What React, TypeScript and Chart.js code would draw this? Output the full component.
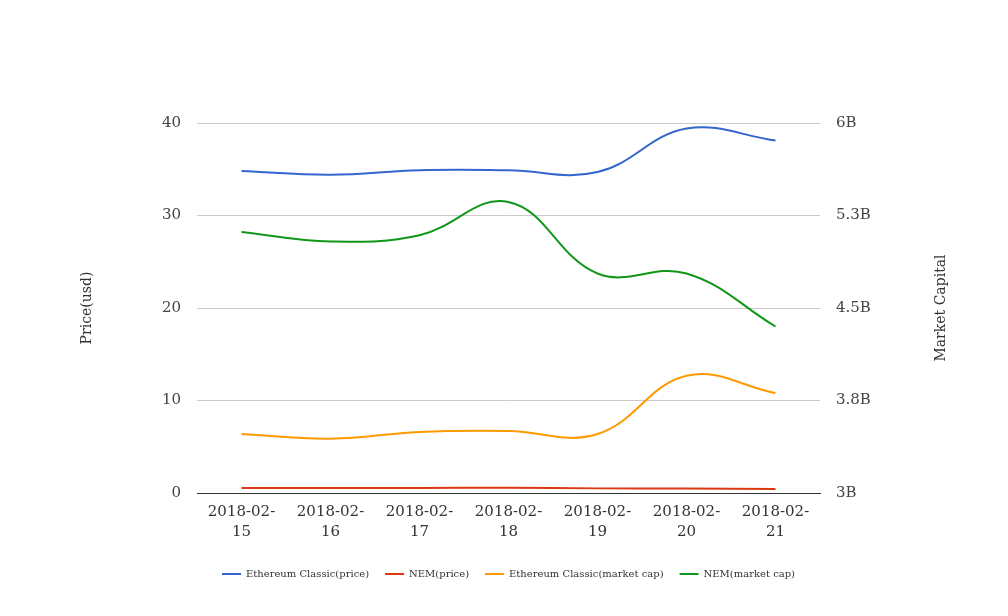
import React, { useEffect, useRef } from "react";
import { Chart, registerables } from "chart.js";

Chart.register(...registerables);

const categories: string[][] = [
  ["2018-02-", "15"],
  ["2018-02-", "16"],
  ["2018-02-", "17"],
  ["2018-02-", "18"],
  ["2018-02-", "19"],
  ["2018-02-", "20"],
  ["2018-02-", "21"],
];

const etcPrice = [34.8, 34.4, 34.9, 34.9, 34.7, 39.4, 38.1];
const nemPrice = [0.55, 0.55, 0.55, 0.58, 0.5, 0.49, 0.43];
const etcCap = [3.478e9, 3.44e9, 3.495e9, 3.503e9, 3.478e9, 3.95e9, 3.81e9];
const nemCap = [5.117e9, 5.04e9, 5.09e9, 5.36e9, 4.78e9, 4.78e9, 4.35e9];

const leftTicks = [0, 10, 20, 30, 40];
const rightTicks = [3e9, 3.75e9, 4.5e9, 5.25e9, 6e9];

const rightTitle = "Market Capital";

const FONT = "'DejaVu Serif', serif";

function fmtB(v: number): string {
  let s = (v / 1e9).toFixed(1);
  if (s.endsWith(".0")) s = s.slice(0, -2);
  return s + "B";
}

const rightTitlePlugin = {
  id: "rightTitle",
  afterDraw(chart: any) {
    const { ctx, chartArea } = chart;
    ctx.save();
    ctx.font = `14px ${FONT}`;
    ctx.fillStyle = "#333";
    ctx.textAlign = "center";
    ctx.textBaseline = "middle";
    ctx.translate(941, (chartArea.top + chartArea.bottom) / 2);
    ctx.rotate(-Math.PI / 2);
    ctx.fillText(rightTitle, 0, 0);
    ctx.restore();
  },
};

export default function App() {
  const ref = useRef<HTMLCanvasElement | null>(null);

  useEffect(() => {
    document.body.style.margin = "0";
    if (!ref.current) return;
    const chart = new Chart(ref.current, {
      type: "line",
      data: {
        labels: categories,
        datasets: [
          { label: "Ethereum Classic(price)", data: etcPrice, borderColor: "#3366cc", backgroundColor: "#3366cc", yAxisID: "y" },
          { label: "NEM(price)", data: nemPrice, borderColor: "#dc3912", backgroundColor: "#dc3912", yAxisID: "y" },
          { label: "Ethereum Classic(market cap)", data: etcCap, borderColor: "#ff9900", backgroundColor: "#ff9900", yAxisID: "y1" },
          { label: "NEM(market cap)", data: nemCap, borderColor: "#109618", backgroundColor: "#109618", yAxisID: "y1" },
        ],
      },
      plugins: [rightTitlePlugin],
      options: {
        animation: false,
        responsive: true,
        maintainAspectRatio: false,
        layout: { padding: { top: 123, left: 9, right: 0, bottom: 27 } },
        elements: {
          line: { tension: 0.4, borderWidth: 2, fill: false },
          point: { radius: 0, hoverRadius: 0 },
        },
        plugins: {
          tooltip: { enabled: false },
          legend: {
            position: "bottom",
            labels: {
              font: { family: FONT, size: 10 },
              color: "#333",
              boxWidth: 19,
              boxHeight: 2,
              padding: 16,
              generateLabels: (c: any) =>
                c.data.datasets.map((d: any, i: number) => ({
                  text: d.label,
                  fillStyle: d.borderColor,
                  strokeStyle: d.borderColor,
                  lineWidth: 0,
                  hidden: false,
                  datasetIndex: i,
                  fontColor: "#333",
                })),
            },
          },
        },
        scales: {
          x: {
            offset: true,
            grid: { display: false, drawTicks: false },
            border: { display: true, color: "#333", width: 1 },
            ticks: {
              font: { family: FONT, size: 15, lineHeight: 1.33 },
              color: "#333",
              padding: 9,
              maxRotation: 0,
              autoSkip: false,
            },
            afterFit: (s: any) => { s.height = 60; },
          },
          y: {
            position: "left",
            min: 0,
            max: 40,
            afterBuildTicks: (s: any) => { s.ticks = leftTicks.map((v) => ({ value: v })); },
            grid: { color: "#cccccc", drawTicks: false },
            border: { display: false },
            ticks: { font: { family: FONT, size: 15 }, color: "#444", padding: 16 },
            title: { display: true, text: "Price(usd)", font: { family: FONT, size: 14 }, color: "#333", padding: { top: 70, bottom: 0 } },
            afterFit: (s: any) => { s.width = 188; },
          },
          y1: {
            position: "right",
            min: 3e9,
            max: 6e9,
            afterBuildTicks: (s: any) => { s.ticks = rightTicks.map((v) => ({ value: v })); },
            grid: { display: false, drawTicks: false },
            border: { display: false },
            ticks: { font: { family: FONT, size: 15 }, color: "#444", padding: 16, callback: (v: any) => fmtB(Number(v)) },
            afterFit: (s: any) => { s.width = 188; },
          },
        },
      },
    });
    return () => chart.destroy();
  }, []);

  return (
    <div style={{ position: "fixed", left: 0, top: 0, width: 1008, height: 616, background: "#fff" }}>
      <canvas ref={ref} />
    </div>
  );
}
